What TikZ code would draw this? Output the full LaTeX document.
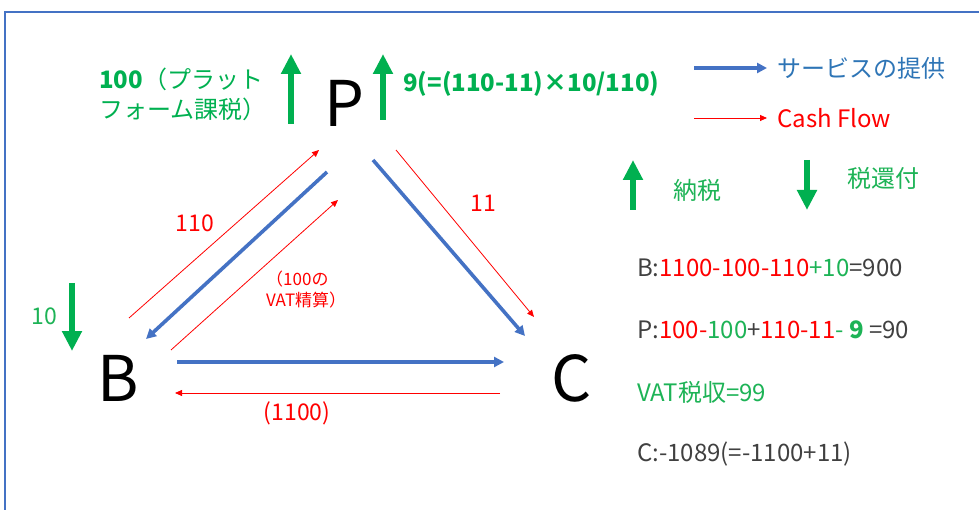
\documentclass[tikz,border=0pt]{standalone}
\usepackage{fontspec}
\setmainfont{Noto Sans CJK JP}
\usetikzlibrary{arrows.meta}
\definecolor{myblue}{HTML}{4472C4}
\definecolor{legblue}{HTML}{2E75B6}
\definecolor{mygreen}{HTML}{00B050}
\definecolor{tgreen}{HTML}{1DB356}
\definecolor{txt}{HTML}{404040}
\tikzset{
  letter/.style={font=\fontsize{63}{65}\selectfont, inner sep=0pt, text=black},
  lbl/.style={font=\fontsize{24}{30}\selectfont, inner sep=0pt, anchor=west},
  elbl/.style={font=\fontsize{23}{27}\selectfont, inner sep=0pt, anchor=center},
  small/.style={font=\fontsize{17}{21}\selectfont, inner sep=0pt, align=left, text=red},
  bluearr/.style={draw=myblue, line width=3.6pt, -{Triangle[length=10pt,width=10pt]}},
  redarr/.style={draw=red, line width=0.8pt, -{Triangle[length=7pt,width=6pt]}},
  greenarr/.style={draw=mygreen, line width=6.5pt, -{Triangle[length=20pt,width=19pt]}},
}
\begin{document}
\begin{tikzpicture}[x=1pt,y=-1pt]
\useasboundingbox (0,0) rectangle (979,510);
% frame
\coordinate (fbl) at (5,512);
\coordinate (ftl) at (5,12);
\coordinate (ftr) at (981,12);
\draw[myblue, line width=2pt] (fbl) -- (ftl) -- (ftr);

% main letters
\node[letter] (P) at (344,103) {P};
\node[letter] (B) at (118,378) {B};
\node[letter] (C) at (572,378) {C};

% top labels
\node[lbl, text=mygreen, align=left, anchor=north west] (ptax) at (99,68) {\textbf{100}（プラット\\フォーム課税）};
\coordinate (ga1s) at (291,124); \coordinate (ga1e) at (291,54);
\draw[greenarr] (ga1s) -- (ga1e);
\coordinate (ga2s) at (383,120); \coordinate (ga2e) at (383,54);
\draw[greenarr] (ga2s) -- (ga2e);
\node[lbl, text=mygreen] (nine) at (403,84) {\textbf{9(=(110-11)×10/110)}};

% legend
\coordinate (l1s) at (694,68); \coordinate (l1e) at (767,68);
\draw[bluearr] (l1s) -- (l1e);
\node[lbl, text=legblue] (leg1) at (777,68) {サービスの提供};
\coordinate (l2s) at (694,118); \coordinate (l2e) at (767,118);
\draw[redarr] (l2s) -- (l2e);
\node[lbl, text=red] (leg2) at (777,118) {Cash Flow};
\coordinate (l3s) at (633,210); \coordinate (l3e) at (633,160);
\draw[greenarr] (l3s) -- (l3e);
\node[lbl, text=tgreen] (leg3) at (673,190) {納税};
\coordinate (l4s) at (807,160); \coordinate (l4e) at (807,210);
\draw[greenarr] (l4s) -- (l4e);
\node[lbl, text=tgreen] (leg4) at (847,178) {税還付};

% triangle connectors
\coordinate (r1s) at (129,318); \coordinate (r1e) at (319,150);
\draw[redarr] (r1s) -- (r1e);
\node[elbl, text=red] (l110) at (195,223) {110};
\coordinate (b1s) at (327,172); \coordinate (b1e) at (146,339);
\draw[bluearr] (b1s) -- (b1e);
\coordinate (r2s) at (171,350); \coordinate (r2e) at (338,200);
\draw[redarr] (r2s) -- (r2e);
\node[small, anchor=north west] (vat) at (266,271) {（100の\\VAT精算）};

\coordinate (b2s) at (373,160); \coordinate (b2e) at (525,336);
\draw[bluearr] (b2s) -- (b2e);
\coordinate (r3s) at (396,150); \coordinate (r3e) at (534,317);
\draw[redarr] (r3s) -- (r3e);
\node[elbl, text=red] (l11) at (483,203) {11};

\coordinate (b3s) at (177,362); \coordinate (b3e) at (504,362);
\draw[bluearr] (b3s) -- (b3e);
\coordinate (r4s) at (500,393); \coordinate (r4e) at (175,393);
\draw[redarr] (r4s) -- (r4e);
\node[elbl, text=red] (l1100) at (297,413) {(1100)};

\coordinate (g5s) at (72,283); \coordinate (g5e) at (72,351);
\draw[greenarr] (g5s) -- (g5e);
\node[elbl, text=tgreen] (l10) at (44,316) {10};

% equations
\node[lbl, text=txt] (eqB) at (637,268) {B:{\color{red}1100-100-110}{\color{tgreen}+10}=900};
\node[lbl, text=txt] (eqP) at (637,330) {P:{\color{red}100-}{\color{tgreen}100}+{\color{red}110-11}{\color{tgreen}- \textbf{9}} =90};
\node[lbl, text=tgreen] (eqV) at (637,392) {VAT税収=99};
\node[lbl, text=txt] (eqC) at (637,454) {C:-1089(=-1100+11)};
\end{tikzpicture}
\end{document}
